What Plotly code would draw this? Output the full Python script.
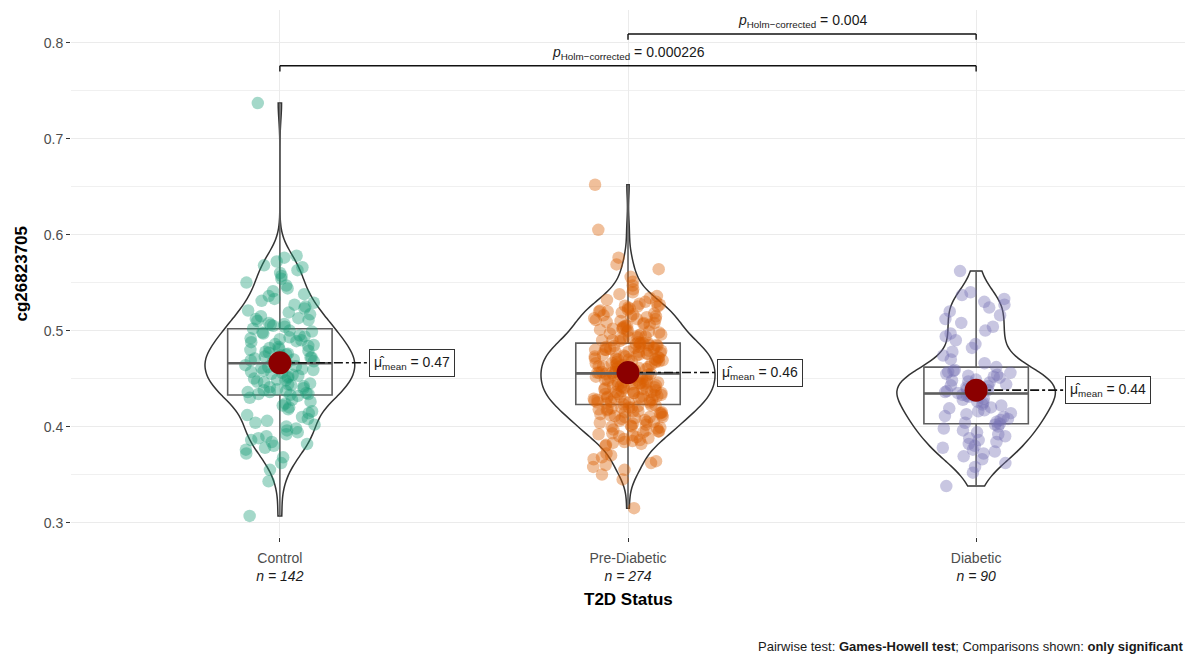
import numpy as np
import plotly.graph_objects as go

# ---- data: cg26823705 methylation by T2D status ----
categories = ["Control", "Pre-Diabetic", "Diabetic"]

control = [
    737, 578, 576, 572, 568, 566, 563, 560, 557, 554,
    550, 547, 544, 541, 538, 536, 533, 531, 529, 527,
    525, 523, 521, 519, 517, 515, 513, 512, 511, 510,
    508, 507, 506, 505, 504,
    502, 500, 499, 498, 497, 495, 494, 493, 492, 491,
    490, 489, 488, 486, 485, 484, 483, 482, 481, 480,
    479, 478, 477, 476, 475, 474, 473, 472, 472, 471,
    470, 469, 468, 468, 467, 466,
    466, 465, 464, 463, 462, 461, 460, 459, 458, 457,
    456, 455, 454, 453, 452, 451, 450, 449, 448, 447,
    446, 445, 444, 443, 442, 441, 440, 439, 438, 437,
    436, 436, 435, 434, 434, 433,
    432, 430, 428, 426, 424, 422, 420, 418, 416, 414,
    412, 410, 408, 406, 404, 402, 400, 398, 396, 394,
    392, 390, 388, 386, 384, 382, 380, 378, 376, 372,
    368, 362, 355, 343, 307,
]

pre_diabetic = [
    652, 605, 576, 569, 564, 556, 551, 547, 543, 540,
    538, 536, 534, 532, 530, 528, 527, 526, 525, 524,
    523, 522, 521, 520, 519, 518, 517, 516, 515, 514,
    513, 512, 511, 510, 509, 508, 507, 506, 505, 504,
    503, 502, 501, 500, 499, 498, 497, 496, 495, 494,
    493, 492, 491, 490, 489, 488, 530, 525, 520, 515,
    512, 508, 505, 502, 499, 496, 493, 490,
    487, 487, 486, 486, 485, 485, 484, 484, 483, 483,
    482, 482, 481, 481, 480, 480, 479, 479, 478, 478,
    477, 477, 476, 476, 475, 475, 474, 474, 473, 473,
    472, 472, 471, 471, 470, 470, 469, 469, 468, 468,
    467, 467, 466, 466, 465, 465, 464, 464, 463, 463,
    462, 462, 461, 461, 460, 460, 459, 459, 458, 458,
    457, 457, 457, 456, 456, 456, 487, 480, 470,
    455, 455, 454, 454, 453, 453, 452, 452, 451, 451,
    450, 450, 449, 449, 448, 448, 447, 447, 446, 446,
    445, 445, 444, 444, 443, 443, 442, 442, 441, 441,
    440, 440, 439, 439, 438, 438, 437, 437, 436, 436,
    435, 435, 434, 434, 433, 433, 432, 432, 431, 431,
    430, 430, 429, 429, 428, 428, 427, 427, 426, 426,
    425, 425, 455, 445, 435, 430, 425, 424,
    423, 422, 421, 420, 419, 418, 417, 416, 415, 414,
    413, 412, 411, 410, 409, 408, 407, 406, 405, 404,
    403, 402, 401, 400, 399, 398, 397, 396, 395, 394,
    393, 392, 391, 390, 389, 388, 387, 386, 385, 384,
    383, 382, 381, 380, 420, 415, 410, 405, 400, 395,
    372, 370, 368, 366, 364, 362, 360, 358, 355, 350,
    345, 315, 422, 420, 418, 416, 414, 412, 410,
]

diabetic = [
    562, 540, 537, 533, 530, 527, 524, 520, 516, 512,
    508, 504, 500, 497, 494, 490, 486, 482, 478, 474,
    470, 466, 462,
    459, 458, 457, 456, 455, 454, 453, 452, 451, 449,
    448, 447, 446, 444, 443, 442, 441, 439, 438, 437,
    436, 435,
    434, 433, 432, 431, 429, 428, 426, 425, 423, 422,
    420, 419, 417, 416, 414, 413, 411, 410, 408, 407,
    405, 404,
    403, 402, 400, 398, 396, 394, 392, 390, 388, 386,
    384, 382, 380, 378, 376, 374, 372, 369, 366, 362,
    358, 352, 338,
]

# pairwise comparisons (Games-Howell, Holm-corrected), only significant ones
pair_groups = [(0, 2), (1, 2)]
pair_pvalues = ["0.000226", "0.004"]

colors = ["#1B9E77", "#D95F02", "#7570B3"]
violin_widths = [0.43, 0.50, 0.455]

groups = [np.array(v) / 1000.0 for v in (control, pre_diabetic, diabetic)]
positions = [1, 2, 3]


def nrd0(x):
    sd = np.std(x, ddof=1)
    iqr = np.quantile(x, 0.75) - np.quantile(x, 0.25)
    return 0.9 * min(sd, iqr / 1.34) * len(x) ** -0.2


def jitter(n, seed):
    # deterministic hash-based horizontal spread in [-0.1, 0.1]
    i = np.arange(n, dtype=float)
    h = np.sin(i * 12.9898 + seed * 78.233) * 43758.5453
    return (h - np.floor(h) - 0.5) * 0.2


fig = go.Figure()

# jittered raw observations
for k, (g, pos, col) in enumerate(zip(groups, positions, colors)):
    fig.add_trace(go.Scatter(
        x=pos + jitter(len(g), k + 1), y=g, mode="markers",
        marker=dict(size=12.5, color=col, opacity=0.4, line=dict(width=0)),
        hoverinfo="skip", showlegend=False,
    ))

# boxplots
for g, pos in zip(groups, positions):
    fig.add_trace(go.Box(
        x=[pos] * len(g), y=g, width=0.3, boxpoints=False,
        whiskerwidth=0, fillcolor="rgba(255,255,255,0.2)",
        line=dict(color="#5E5E5E", width=1.6),
        hoverinfo="skip", showlegend=False,
    ))

# violins
for g, pos, w in zip(groups, positions, violin_widths):
    fig.add_trace(go.Violin(
        x=[pos] * len(g), y=g, width=w, bandwidth=nrd0(g), spanmode="hard",
        points=False, box_visible=False, meanline_visible=False,
        scalemode="width", fillcolor="rgba(255,255,255,0)",
        line=dict(color="#333333", width=1.5),
        hoverinfo="skip", showlegend=False,
    ))

annotations = []

# thicker median bar, mean marker, dash-dot leader and mean label
for g, pos in zip(groups, positions):
    med = float(np.median(g))
    mean = float(np.mean(g))
    fig.add_trace(go.Scatter(
        x=[pos - 0.15, pos + 0.15], y=[med, med], mode="lines",
        line=dict(color="#5E5E5E", width=2.6),
        hoverinfo="skip", showlegend=False,
    ))
    fig.add_trace(go.Scatter(
        x=[pos, pos + 0.255], y=[mean, mean], mode="lines",
        line=dict(color="#111111", width=1.6, dash="dashdot"),
        hoverinfo="skip", showlegend=False,
    ))
    fig.add_trace(go.Scatter(
        x=[pos], y=[mean], mode="markers",
        marker=dict(size=23, color="#8B0000"),
        hoverinfo="skip", showlegend=False,
    ))
    annotations.append(dict(
        x=pos + 0.255, y=mean, xref="x", yref="y",
        xanchor="left", yanchor="middle", showarrow=False,
        text=f"\u03bc\u0302<sub>mean</sub> = {mean:.2f}",
        font=dict(size=14, color="#1A1A1A"),
        bgcolor="white", bordercolor="#333333", borderwidth=1, borderpad=4,
    ))

# significance brackets
ymax = max(float(g.max()) for g in groups)
shapes = []
for k, ((a, b), p) in enumerate(zip(pair_groups, pair_pvalues)):
    yb = ymax + 0.039 + k * 0.033
    xa, xb = positions[a], positions[b]
    line = dict(color="#111111", width=1.4)
    shapes.append(dict(type="line", xref="x", yref="y", x0=xa, x1=xb, y0=yb, y1=yb, line=line))
    shapes.append(dict(type="line", xref="x", yref="y", x0=xa, x1=xa, y0=yb, y1=yb - 0.006, line=line))
    shapes.append(dict(type="line", xref="x", yref="y", x0=xb, x1=xb, y0=yb, y1=yb - 0.006, line=line))
    annotations.append(dict(
        x=(xa + xb) / 2, y=yb, xref="x", yref="y", xanchor="center", yanchor="bottom",
        yshift=2, showarrow=False,
        text=f"<i>p</i><sub>Holm\u2212corrected</sub> = {p}",
        font=dict(size=14, color="#1A1A1A"),
    ))

tick_text = [
    f"<span style='color:#4D4D4D'>{c}</span><br><i>n = {len(g)}</i>"
    for c, g in zip(categories, groups)
]

# axis titles and caption
annotations.append(dict(
    x=0.5, y=-0.119, xref="paper", yref="paper", xanchor="center", yanchor="middle",
    showarrow=False, text="<b>T2D Status</b>", font=dict(size=17, color="#000000"),
))
annotations.append(dict(
    x=-0.044, y=0.5, xref="paper", yref="paper", xanchor="center", yanchor="middle",
    showarrow=False, textangle=-90, text="<b>cg26823705</b>",
    font=dict(size=17, color="#000000"),
))
annotations.append(dict(
    x=1.0, y=-0.207, xref="paper", yref="paper", xanchor="right", yanchor="middle",
    showarrow=False,
    text="Pairwise test: <b>Games-Howell test</b>; Comparisons shown: <b>only significant</b>",
    font=dict(size=13, color="#1A1A1A"),
))

fig.update_layout(
    width=1192, height=659,
    margin=dict(l=71, r=7, t=10, b=122),
    plot_bgcolor="white", paper_bgcolor="white",
    font=dict(family="Liberation Sans, Arial, sans-serif", size=14, color="#1A1A1A"),
    showlegend=False,
    shapes=shapes,
    annotations=annotations,
    xaxis=dict(
        range=[0.4, 3.6], tickvals=positions, ticktext=tick_text,
        ticks="outside", ticklen=4, tickcolor="#333333", ticklabelstandoff=4,
        showgrid=True, gridcolor="#EBEBEB", gridwidth=1,
        zeroline=False, showline=False,
        tickfont=dict(size=14, color="#1A1A1A"),
    ),
    yaxis=dict(
        range=[0.285, 0.834], tickvals=[0.3, 0.4, 0.5, 0.6, 0.7, 0.8],
        tickformat=".1f",
        ticks="outside", ticklen=4, tickcolor="#333333",
        showgrid=True, gridcolor="#EBEBEB", gridwidth=1.2,
        minor=dict(tickvals=[0.35, 0.45, 0.55, 0.65, 0.75],
                   showgrid=True, gridcolor="#F0F0F0", gridwidth=1, ticks=""),
        zeroline=False, showline=False,
        tickfont=dict(size=14, color="#4D4D4D"),
    ),
)

fig.write_html("out.html")
